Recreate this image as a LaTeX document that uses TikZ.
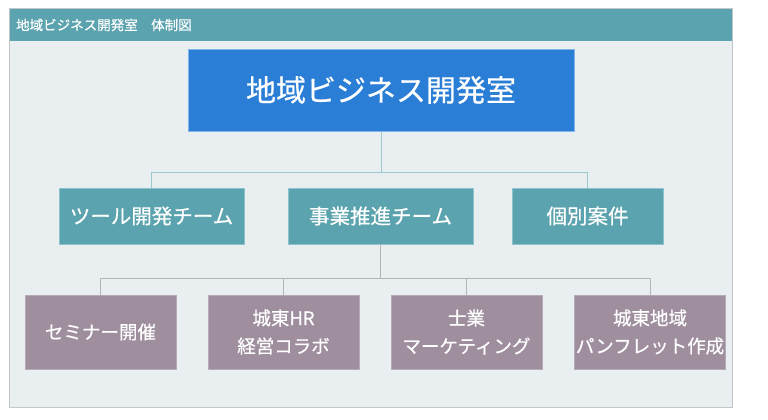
\documentclass[tikz,border=0pt]{standalone}
\usepackage{fontspec}
\newfontfamily\cjk[FakeBold=0.5]{Noto Sans CJK JP}
\definecolor{teal1}{HTML}{5BA3AE}
\definecolor{bodybg}{HTML}{E9EEF1}
\definecolor{frameC}{HTML}{C4C6C8}
\definecolor{topblue}{HTML}{2B7ED6}
\definecolor{topedge}{HTML}{7FB5E8}
\definecolor{mauve}{HTML}{9E8E9E}
\definecolor{mauveedge}{HTML}{B6AAB6}
\definecolor{tealedge}{HTML}{8CC2CA}
\definecolor{lineT}{HTML}{9CC7CE}
\definecolor{lineG}{HTML}{B4B4B8}
\tikzset{
  topbox/.style={rectangle, fill=topblue, draw=topedge, line width=0.6pt, minimum width=386pt, minimum height=82pt, inner sep=0pt, text=white, font=\cjk\fontsize{30}{34}\selectfont},
  midbox/.style={rectangle, fill=teal1, draw=tealedge, line width=0.6pt, minimum height=56pt, inner sep=0pt, text=white, font=\cjk\fontsize{20.5}{24}\selectfont},
  lowbox/.style={rectangle, fill=mauve, draw=mauveedge, line width=0.6pt, minimum width=151pt, minimum height=74pt, inner sep=0pt, text=white, align=center, font=\cjk\fontsize{18.5}{28}\selectfont},
  tline/.style={draw=lineT, line width=1pt},
  gline/.style={draw=lineG, line width=1pt}
}
\begin{document}
\begin{tikzpicture}[x=1pt,y=-1pt]
\useasboundingbox (0,0) rectangle (768,420);
% frame
\fill[bodybg] (9,9) rectangle (732,407);
\fill[teal1] (9,9) rectangle (732,41);
\draw[frameC, line width=1pt] (9,9) rectangle (732,407);
\node[anchor=west, text=white, inner sep=0pt, font=\cjk\fontsize{13.5}{16}\selectfont] (hdr) at (16,25) {地域ビジネス開発室　体制図};
% boxes
\node[topbox] (top) at (381,90) {地域ビジネス開発室};
\node[midbox, minimum width=185pt] (a) at (151.5,216) {ツール開発チーム};
\node[midbox, minimum width=185pt] (b) at (380.5,216) {事業推進チーム};
\node[midbox, minimum width=151pt] (c) at (587.5,216) {個別案件};
\node[lowbox] (d1) at (100.5,332) {セミナー開催};
\node[lowbox] (d2) at (283.5,332) {城東HR\\経営コラボ};
\node[lowbox] (d3) at (466.5,332) {士業\\マーケティング};
\node[lowbox] (d4) at (650,332) {城東地域\\パンフレット作成};
% connectors
\coordinate (j1) at (381,172);
\coordinate (j2) at (380.5,278);
\draw[tline] (top.south) -- (j1);
\draw[tline] (a.north) -- (a.north |- j1) -- (c.north |- j1) -- (c.north);
\draw[gline] (b.south) -- (j2);
\draw[gline] (d1.north) -- (d1.north |- j2) -- (d4.north |- j2) -- (d4.north);
\draw[gline] (d2.north) -- (d2.north |- j2);
\draw[gline] (d3.north) -- (d3.north |- j2);
\end{tikzpicture}
\end{document}
